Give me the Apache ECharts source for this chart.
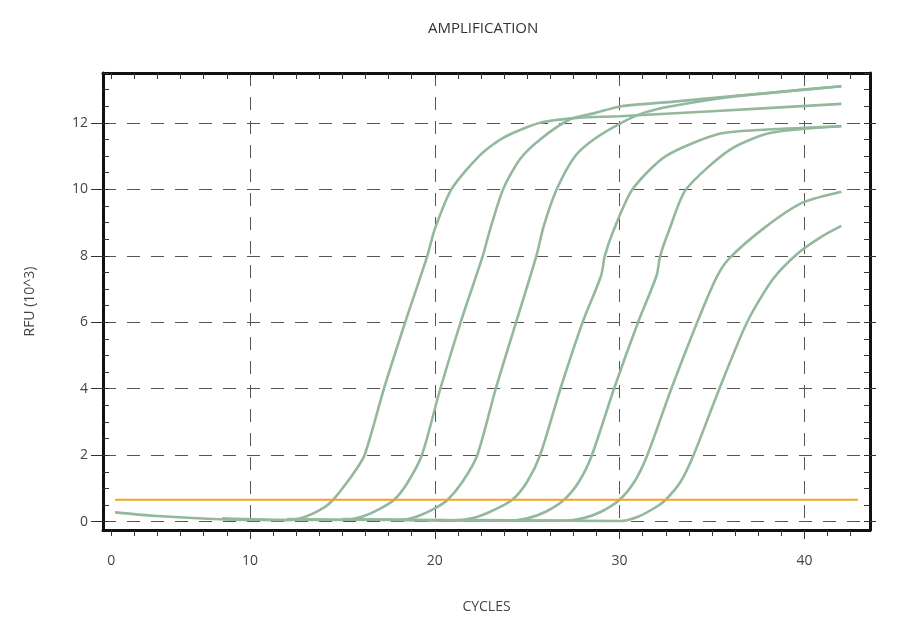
<!DOCTYPE html>
<html>
<head>
<meta charset="utf-8">
<title>Amplification</title>
<script src="https://cdn.jsdelivr.net/npm/echarts@6/dist/echarts.min.js"></script>
<style>
  html, body { margin: 0; padding: 0; background: #fff; }
  #chart { width: 909px; height: 628px; }
</style>
</head>
<body>
<div id="chart"></div>
<script>
// amplification curves, one [cycle, RFU x10^3] list per well
var curve1 = [[2.7,0.28],[5,0.17],[8,0.08],[10,0.05],[12,0.05],[13,0.15],[14,0.42],[14.5,0.66],[15,1.0],[15.6,1.45],[16.2,2.0],[17.25,4.0],[18.4,6.0],[19.6,8.0],[20.0,8.8],[20.9,10.0],[22.4,11.0],[23.7,11.55],[25.7,12.0],[27.7,12.15],[30,12.2],[35,12.35],[42,12.57]]
var curve2 = [[8.5,0.1],[12,0.05],[15,0.05],[16,0.14],[17,0.38],[17.8,0.66],[18.5,1.15],[19.3,2.0],[20.3,4.0],[21.4,6.0],[22.6,8.0],[23.0,8.8],[23.7,10.0],[24.6,10.9],[25.7,11.5],[27.3,12.1],[28.7,12.3],[30.1,12.5],[32.8,12.63],[36,12.8],[40,13.0],[42,13.1]]
var curve3 = [[12,0.08],[18,0.05],[19,0.15],[20,0.4],[20.7,0.66],[21.5,1.2],[22.3,2.0],[23.3,4.0],[24.4,6.0],[25.5,8.0],[25.9,8.9],[26.6,10.0],[27.6,11.0],[28.6,11.5],[30.1,12.0],[31.3,12.3],[32.8,12.5],[36,12.78],[40,13.0],[42,13.1]]
var curve4 = [[15,0.08],[21,0.04],[22,0.1],[23,0.3],[24.2,0.66],[25,1.2],[25.7,2.0],[26.8,4.0],[28.0,6.0],[29.0,7.4],[29.2,8.0],[29.7,8.8],[30.7,10.0],[32.5,11.0],[35.4,11.67],[38,11.8],[42,11.9]]
var curve5 = [[17,0.06],[24,0.03],[25,0.1],[26,0.3],[27,0.66],[27.8,1.2],[28.5,2.0],[29.7,4.0],[31.0,6.0],[32.0,7.4],[32.2,8.0],[32.7,8.8],[33.6,10.0],[36.0,11.2],[38.2,11.7],[42,11.9]]
var curve6 = [[20,0.05],[27,0.03],[28,0.1],[29,0.3],[30,0.66],[30.8,1.2],[31.5,2.0],[32.8,4.0],[34.2,6.0],[35.2,7.3],[35.9,7.9],[37.9,8.87],[39.9,9.6],[42,9.93]]
var curve7 = [[22,0.05],[30,0.02],[31,0.15],[32,0.45],[32.5,0.66],[33.3,1.2],[34.0,2.0],[35.4,4.0],[36.9,6.0],[38.3,7.3],[39.7,8.1],[41,8.6],[42,8.9]]
var curves = [curve1, curve2, curve3, curve4, curve5, curve6, curve7]

// threshold line
var thresholdX = [2.7, 42.9]
var thresholdValue = 0.66

// tick positions (the "0" label sits on the first minor tick, as in the original)
var xMinorTicks = []
for (var t = 2.5; t <= 43.5; t += 1.25) xMinorTicks.push(t)
var xMajorTicks = [10, 20, 30, 40]
var xLabelValues = [2.5, 10, 20, 30, 40]
var xLabelTexts = ['0', '10', '20', '30', '40']

var yMinorTicks = []
for (var v = 0; v <= 13.5; v += 0.5) yMinorTicks.push(v)
var yMajorTicks = [0, 2, 4, 6, 8, 10, 12]

var chart = echarts.init(document.getElementById('chart'), null, { renderer: 'canvas' })

var frameColor = '#111'
var gridDash = { color: '#555', width: 1, type: [13, 11] }
var labelFont = { fontFamily: 'Open Sans', fontSize: 14, color: '#444' }

var xRange = { min: 2.05, max: 43.55 }
var yRange = { min: -0.25, max: 13.5 }

var series = curves.map(function (c, i) {
  return {
    name: 'well ' + (i + 1),
    type: 'line',
    data: c,
    smooth: 0.25,
    showSymbol: false,
    silent: true,
    z: 3,
    lineStyle: { color: '#93b89b', width: 2.6 }
  }
})
series.push({
  name: 'threshold',
  type: 'line',
  data: thresholdX.map(function (x) { return [x, thresholdValue] }),
  showSymbol: false,
  silent: true,
  z: 4,
  lineStyle: { color: '#f3a31f', width: 2 }
})

var option = {
  animation: false,
  backgroundColor: '#fff',
  title: {
    text: 'AMPLIFICATION',
    left: 423,
    top: 16,
    textStyle: { fontFamily: 'Open Sans', fontSize: 15, fontWeight: 'normal', color: '#333' }
  },
  grid: { left: 103, right: 39, top: 73, bottom: 98 },
  xAxis: [
    {
      type: 'value', position: 'bottom', min: xRange.min, max: xRange.max,
      name: 'CYCLES', nameLocation: 'middle', nameGap: 70,
      nameTextStyle: { fontFamily: 'Open Sans', fontSize: 14, color: '#444' },
      axisLine: { onZero: false, lineStyle: { color: frameColor, width: 3 } },
      axisTick: { customValues: xMinorTicks, length: 6, lineStyle: { color: '#333' } },
      axisLabel: {
        customValues: xLabelValues, margin: 24,
        fontFamily: labelFont.fontFamily, fontSize: labelFont.fontSize, color: labelFont.color,
        formatter: function (val) {
          var k = xLabelValues.indexOf(val)
          return k >= 0 ? xLabelTexts[k] : ''
        }
      },
      splitLine: { show: false }
    },
    {
      type: 'value', position: 'bottom', offset: 0, min: xRange.min, max: xRange.max,
      axisLine: { show: false, onZero: false },
      axisTick: { customValues: xMajorTicks, length: 9, lineStyle: { color: '#333' } },
      axisLabel: { show: false },
      splitLine: { show: true, lineStyle: gridDash }
    },
    {
      type: 'value', position: 'top', min: xRange.min, max: xRange.max,
      axisLine: { onZero: false, lineStyle: { color: frameColor, width: 3 } },
      axisTick: { customValues: xMinorTicks, inside: true, length: 6, lineStyle: { color: '#333' } },
      axisLabel: { show: false },
      splitLine: { show: false }
    }
  ],
  yAxis: [
    {
      type: 'value', position: 'left', min: yRange.min, max: yRange.max,
      name: 'RFU (10^3)', nameLocation: 'middle', nameGap: 66,
      nameTextStyle: { fontFamily: 'Open Sans', fontSize: 14, color: '#444' },
      axisLine: { onZero: false, lineStyle: { color: frameColor, width: 3 } },
      axisTick: { customValues: yMinorTicks, inside: true, length: 6, lineStyle: { color: '#333' } },
      axisLabel: {
        customValues: yMajorTicks, margin: 15,
        fontFamily: labelFont.fontFamily, fontSize: labelFont.fontSize, color: labelFont.color
      },
      splitLine: { show: false }
    },
    {
      type: 'value', position: 'left', offset: 0, min: yRange.min, max: yRange.max,
      axisLine: { show: false, onZero: false },
      axisTick: { customValues: yMajorTicks, length: 12, lineStyle: { color: '#333' } },
      axisLabel: { show: false },
      splitLine: { show: true, lineStyle: gridDash }
    },
    {
      type: 'value', position: 'right', min: yRange.min, max: yRange.max,
      axisLine: { onZero: false, lineStyle: { color: frameColor, width: 3 } },
      axisTick: { customValues: yMinorTicks, inside: true, length: 6, lineStyle: { color: '#333' } },
      axisLabel: { show: false },
      splitLine: { show: false }
    },
    {
      type: 'value', position: 'right', offset: 0, min: yRange.min, max: yRange.max,
      axisLine: { show: false, onZero: false },
      axisTick: { customValues: yMajorTicks, length: 6, lineStyle: { color: '#333' } },
      axisLabel: { show: false },
      splitLine: { show: false }
    }
  ],
  series: series
}

chart.setOption(option)
</script>
</body>
</html>
